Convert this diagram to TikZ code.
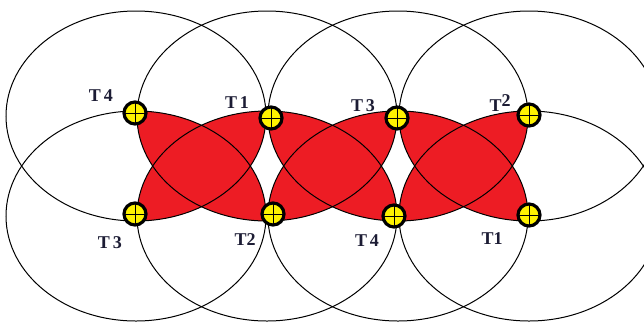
\documentclass[tikz,border=0pt]{standalone}
\usepackage{fontspec}
\setmainfont{Liberation Serif}
\definecolor{lensred}{RGB}{237,28,36}
\definecolor{senyel}{RGB}{255,242,0}
\definecolor{labink}{RGB}{28,28,52}
\begin{document}
\begin{tikzpicture}[x=1pt,y=-1pt,
  rng/.style={draw=black,line width=1pt},
  ell/.style={x radius=130pt,y radius=105pt},
  sensor/.style={circle,draw=black,line width=3.2pt,fill=senyel,minimum size=22pt,inner sep=0pt,
    path picture={\draw[line width=0.9pt,black]
      (path picture bounding box.north)--(path picture bounding box.south)
      (path picture bounding box.west)--(path picture bounding box.east);}},
  lab/.style={font=\fontsize{18}{18}\selectfont\bfseries, text=labink, inner sep=0pt}]
\useasboundingbox (0,0) rectangle (644,322);
\fill[white] (0,0) rectangle (644,322);
\clip (0,0) rectangle (644,322);
\foreach \i/\x in {1/136,2/267,3/398,4/529}{
  \coordinate (U\i) at (\x,116);
  \coordinate (D\i) at (\x,216);
}
% red lenses
\foreach \a/\b in {1/2,2/3,3/4}{
  \begin{scope}
    \clip (U\b) ellipse[ell];
    \fill[lensred] (D\a) ellipse[ell];
  \end{scope}
  \begin{scope}
    \clip (U\a) ellipse[ell];
    \fill[lensred] (D\b) ellipse[ell];
  \end{scope}
}
% coverage rings
\foreach \i in {1,2,3,4}{
  \draw[rng] (U\i) ellipse[ell];
  \draw[rng] (D\i) ellipse[ell];
}
% sensors
\node[sensor] (t4a) at (135,113) {};
\node[sensor] (t1a) at (271,118) {};
\node[sensor] (t3a) at (397,118) {};
\node[sensor] (t2a) at (529,115) {};
\node[sensor] (t3b) at (135,214) {};
\node[sensor] (t2b) at (273,214) {};
\node[sensor] (t4b) at (394,216) {};
\node[sensor] (t1b) at (529,215) {};
% labels
\node[lab] (l4a) at (101,96) {T\,4};
\node[lab] (l1a) at (237,103) {T\,1};
\node[lab] (l3a) at (363,106) {T\,3};
\node[lab] (l2a) at (500,103) {T\raisebox{5pt}{2}};
\node[lab] (l3b) at (110,243) {T\,3};
\node[lab] (l2b) at (245,240) {T2};
\node[lab] (l4b) at (367,241) {T\,4};
\node[lab] (l1b) at (492,239) {T1};
\end{tikzpicture}
\end{document}
